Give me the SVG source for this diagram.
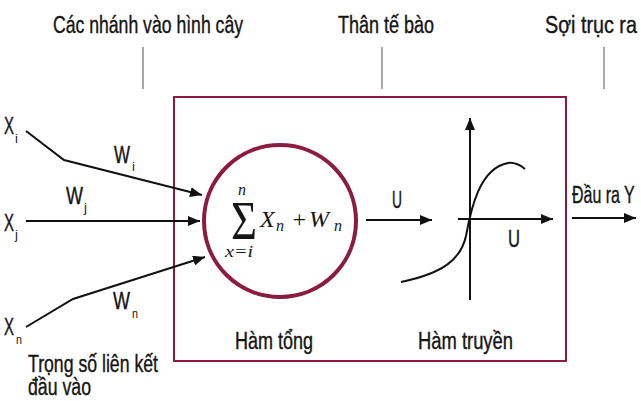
<svg xmlns="http://www.w3.org/2000/svg" width="641" height="401" viewBox="0 0 641 401">
<style>
.t{font-family:"Liberation Sans",Arial,sans-serif;font-size:23.5px;fill:#151515;stroke:#151515;stroke-width:0.4}
.s{font-family:"Liberation Sans",Arial,sans-serif;font-size:13px;fill:#151515}
.m{font-family:"Liberation Serif","Times New Roman",serif;font-style:italic;font-size:24px;fill:#151515}
.ms{font-family:"Liberation Serif","Times New Roman",serif;font-style:italic;font-size:16px;fill:#151515}
.ln{stroke:#111;stroke-width:2;fill:none}
.g{stroke:#a8a8a8;stroke-width:2}
.c{stroke:#8c1b40;fill:none}
</style>
<defs>
<marker id="ah" viewBox="0 0 12 10" refX="12" refY="5" markerWidth="12" markerHeight="10" markerUnits="userSpaceOnUse" orient="auto">
<path d="M0,0 L12,5 L0,10 Z" fill="#111"/>
</marker>
</defs>
<g id="labels-top">
<text class="t" x="53" y="33" textLength="190" lengthAdjust="spacingAndGlyphs">Các nhánh vào hình cây</text>
<text class="t" x="338" y="33" textLength="96" lengthAdjust="spacingAndGlyphs">Thân tế bào</text>
<text class="t" transform="translate(545,33) scale(0.84,1)">Sợi trục ra</text>
<line class="g" x1="143" y1="47" x2="143" y2="89"/>
<line class="g" x1="382" y1="47" x2="382" y2="89"/>
<line class="g" x1="604" y1="47" x2="604" y2="89"/>
</g>
<g id="cell-body">
<rect class="c" x="174" y="97" width="392" height="264" stroke-width="2"/>
</g>
<g id="summation">
<circle class="c" cx="280" cy="221" r="76" stroke-width="4"/>
<text x="231" y="239" font-family="Liberation Serif, serif" font-size="54" fill="#151515" textLength="26" lengthAdjust="spacingAndGlyphs">Σ</text>
<text class="ms" x="238" y="195">n</text>
<text class="ms" x="225" y="257" textLength="28" lengthAdjust="spacingAndGlyphs">x=i</text>
<text class="m" x="260" y="227">X</text>
<text class="ms" x="276" y="231">n</text>
<text class="m" x="291" y="227" font-style="normal">+</text>
<text class="m" x="309" y="227">W</text>
<text class="ms" x="334" y="231">n</text>
<text class="t" x="235" y="349" textLength="78" lengthAdjust="spacingAndGlyphs">Hàm tổng</text>
</g>
<g id="transfer">
<path class="ln" d="M401,282 C445,273 461,258 466,236 C471,208 480,168 508,163 C515,162 520,165 525,169"/>
<text class="t" x="508" y="247" textLength="12" lengthAdjust="spacingAndGlyphs">U</text>
<text class="t" x="418" y="349" textLength="95" lengthAdjust="spacingAndGlyphs">Hàm truyền</text>
</g>
<g id="inputs">
<text class="t" x="4" y="134" textLength="10" lengthAdjust="spacingAndGlyphs">X</text>
<text class="s" x="15" y="143">i</text>
<text class="t" x="4" y="231" textLength="10" lengthAdjust="spacingAndGlyphs">X</text>
<text class="s" x="15" y="239">j</text>
<text class="t" x="4" y="335" textLength="10" lengthAdjust="spacingAndGlyphs">X</text>
<text class="s" x="16" y="344" textLength="6" lengthAdjust="spacingAndGlyphs">n</text>
<text class="t" x="114" y="163" textLength="16" lengthAdjust="spacingAndGlyphs">W</text>
<text class="s" x="132" y="171">i</text>
<text class="t" x="66" y="204" textLength="17" lengthAdjust="spacingAndGlyphs">W</text>
<text class="s" x="84" y="212">j</text>
<text class="t" x="113" y="309" textLength="17" lengthAdjust="spacingAndGlyphs">W</text>
<text class="s" x="132" y="318" textLength="6" lengthAdjust="spacingAndGlyphs">n</text>
<text class="t" x="28" y="372" textLength="130" lengthAdjust="spacingAndGlyphs">Trọng số liên kết</text>
<text class="t" x="28" y="395" textLength="63" lengthAdjust="spacingAndGlyphs">đầu vào</text>
</g>
<g id="output">
<text class="t" x="392" y="208" textLength="10" lengthAdjust="spacingAndGlyphs">U</text>
<text class="t" transform="translate(572,203) scale(0.68,1)">Đầu ra Y</text>
</g>
<g id="connectors">
<polyline class="ln" points="26,131 64,160 202,195" marker-end="url(#ah)"/>
<line class="ln" x1="26" y1="221" x2="200" y2="221" marker-end="url(#ah)"/>
<polyline class="ln" points="26,327 73,299 205,257" marker-end="url(#ah)"/>
<line class="ln" x1="366" y1="220" x2="432" y2="220" marker-end="url(#ah)"/>
<line class="ln" x1="470" y1="300" x2="470" y2="118" marker-end="url(#ah)"/>
<line class="ln" x1="458" y1="219" x2="553" y2="219" marker-end="url(#ah)"/>
<line class="ln" x1="572" y1="218" x2="636" y2="218" marker-end="url(#ah)"/>
</g>
</svg>
